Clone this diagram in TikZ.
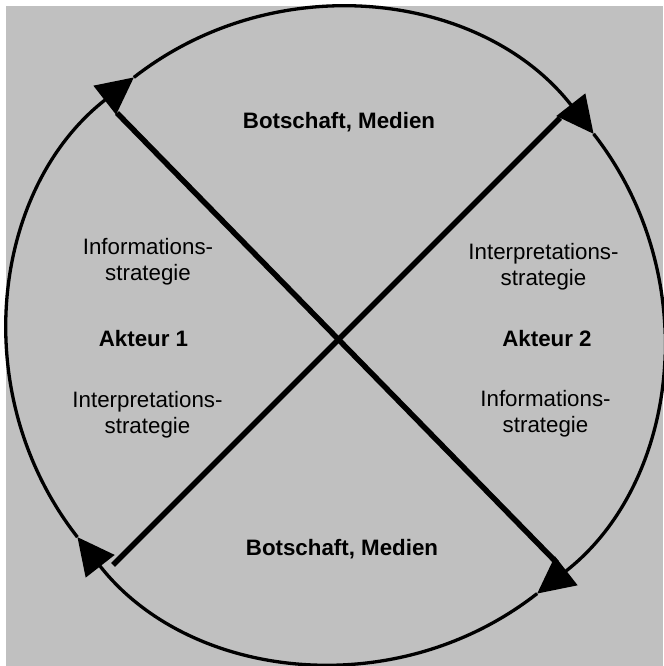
\documentclass[tikz,border=0pt]{standalone}
\usepackage{fontspec}
\setmainfont{Liberation Sans}
\usetikzlibrary{arrows.meta}
\definecolor{bggray}{HTML}{C0C0C0}

\begin{document}
\begin{tikzpicture}[
    every node/.style={font=\fontsize{12.7}{14.8}\selectfont, align=center, anchor=base},
    title/.style={font=\fontsize{12.7}{14.8}\selectfont\bfseries},
    ring/.style={line width=0.066cm, -{Triangle[length=0.74cm,width=0.72cm]}},
    diag/.style={line width=0.11cm}]
      \useasboundingbox (0,0) rectangle (13.26,13.32);
      \fill[bggray] (0.12,0) rectangle (13.26,13.2);
      \coordinate (c) at (6.71,6.61);
      \coordinate (nw) at (2.34,11.06);
      \coordinate (se) at (11.14,2.06);
      \coordinate (sw) at (2.26,2.02);
      \coordinate (ne) at (11.20,10.96);
      \draw[diag] (nw) -- (se);
      \draw[diag] (sw) -- (ne);
      % circle in four arcs, clockwise
      \foreach \a in {128,38,-52,-142}
        \draw[ring] ([shift={(\a:6.55)}]c) arc[start angle=\a, end angle=\a-90, radius=6.55];
      \node[title] (msgtop) at (6.78,10.74) {Botschaft, Medien};
      \node[title] (msgbot) at (6.84,2.21) {Botschaft, Medien};
      \node[title] (akteur1) at (2.87,6.38) {Akteur 1};
      \node[title] (akteur2) at (10.94,6.38) {Akteur 2};
      % base of a two-line node is its last line
      \node (info1) at (2.96,7.70) {Informations-\\strategie};
      \node (interp1) at (2.95,4.64) {Interpretations-\\strategie};
      \node (interp2) at (10.87,7.60) {Interpretations-\\strategie};
      \node (info2) at (10.91,4.66) {Informations-\\strategie};
\end{tikzpicture}
\end{document}
